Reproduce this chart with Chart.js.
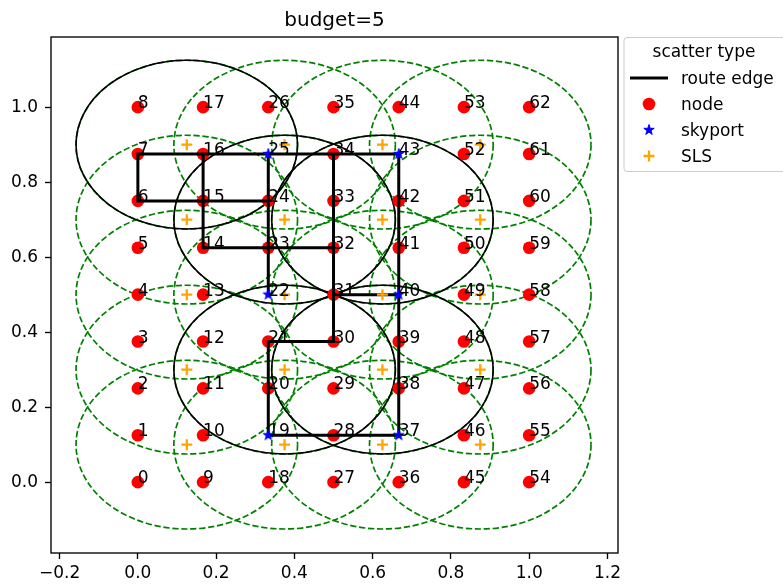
<!DOCTYPE html>
<html>
<head>
<meta charset="utf-8">
<script src="https://cdn.jsdelivr.net/npm/chart.js@4/dist/chart.umd.min.js"></script>
<style>
  html, body { margin: 0; padding: 0; background: #fff; }
  #wrap { width: 783px; height: 586px; }
</style>
</head>
<body>
<div id="wrap"><canvas id="budget-chart" width="783" height="586"></canvas></div>
<script>
// candidate node grid, node id = col * 9 + row
var gridX = [0, 0.1667, 0.3333, 0.5, 0.6667, 0.8333, 1.0];
var gridY = [0, 0.125, 0.25, 0.375, 0.5, 0.625, 0.75, 0.875, 1.0];
var skyportIds = [19, 22, 25, 37, 40, 43];
var slsX = [0.125, 0.375, 0.625, 0.875];
var slsY = [0.1, 0.3, 0.5, 0.7, 0.9];
// SLS sites that are used (solid circles)
var activeSls = [[0.125, 0.9], [0.375, 0.7], [0.625, 0.7], [0.375, 0.3], [0.625, 0.3]];
var coverRadius = [0.283, 0.225]; // x, y in data units
var routeEdges = [
  [7, 16], [16, 25], [25, 34], [34, 43],
  [7, 6], [6, 15], [15, 24],
  [16, 15], [15, 14], [14, 23], [23, 32],
  [25, 24], [24, 23], [23, 22],
  [34, 33], [33, 32], [32, 31], [31, 30],
  [43, 42], [42, 41], [41, 40], [40, 39], [39, 38], [38, 37],
  [31, 40], [30, 21], [21, 20], [20, 19],
  [19, 28], [28, 37]
];
var xTicks = [-0.2, 0, 0.2, 0.4, 0.6, 0.8, 1.0, 1.2];
var yTicks = [0, 0.2, 0.4, 0.6, 0.8, 1.0];
var legendLabels = ['route edge', 'node', 'skyport', 'SLS'];

var FONT = '"DejaVu Sans", "Liberation Sans", sans-serif';

var nodes = [];
gridX.forEach(function (x) {
  gridY.forEach(function (y) { nodes.push({x: x, y: y}); });
});
var slsPoints = [];
slsX.forEach(function (x) {
  slsY.forEach(function (y) { slsPoints.push({x: x, y: y}); });
});
var skyports = skyportIds.map(function (id) { return nodes[id]; });
// plain nodes: the skyports only get a star
var plainNodes = nodes.filter(function (n, i) { return skyportIds.indexOf(i) < 0; });
var edgeData = [];
routeEdges.forEach(function (e) {
  edgeData.push(nodes[e[0]], nodes[e[1]], {x: null, y: null});
});

function starMarker(size, color) {
  var c = document.createElement('canvas');
  c.width = c.height = size;
  var g = c.getContext('2d');
  var R = size / 2 - 1.5, r = R * 0.382;
  g.beginPath();
  for (var i = 0; i < 10; i++) {
    var a = -Math.PI / 2 + i * Math.PI / 5;
    var rad = i % 2 ? r : R;
    g.lineTo(size / 2 + rad * Math.cos(a), size / 2 + rad * Math.sin(a));
  }
  g.closePath();
  g.fillStyle = color;
  g.fill();
  g.strokeStyle = color;
  g.lineWidth = 1;
  g.stroke();
  return c;
}
var star = starMarker(14, '#0000ff');

var ellipses = {
  id: 'ellipses',
  beforeDatasetsDraw: function (chart) {
    var ctx = chart.ctx, sx = chart.scales.x, sy = chart.scales.y, a = chart.chartArea;
    function ell(cx, cy) {
      var px = sx.getPixelForValue(cx), py = sy.getPixelForValue(cy);
      var rx = Math.abs(sx.getPixelForValue(cx + coverRadius[0]) - px);
      var ry = Math.abs(sy.getPixelForValue(cy + coverRadius[1]) - py);
      ctx.beginPath();
      ctx.ellipse(px, py, rx, ry, 0, 0, Math.PI * 2);
      ctx.stroke();
    }
    ctx.save();
    ctx.beginPath();
    ctx.rect(a.left, a.top, a.right - a.left, a.bottom - a.top);
    ctx.clip();
    ctx.strokeStyle = '#008000';
    ctx.lineWidth = 1.7;
    ctx.setLineDash([6.3, 2.7]);
    slsPoints.forEach(function (p) { ell(p.x, p.y); });
    ctx.setLineDash([]);
    ctx.strokeStyle = '#000';
    ctx.lineWidth = 1.6;
    activeSls.forEach(function (p) { ell(p[0], p[1]); });
    ctx.restore();
  }
};

var nodeLabels = {
  id: 'nodeLabels',
  afterDatasetsDraw: function (chart) {
    var ctx = chart.ctx, sx = chart.scales.x, sy = chart.scales.y;
    ctx.save();
    ctx.font = '17px ' + FONT;
    ctx.fillStyle = '#000';
    ctx.textAlign = 'left';
    ctx.textBaseline = 'alphabetic';
    nodes.forEach(function (n, i) {
      ctx.fillText(String(i), sx.getPixelForValue(n.x), sy.getPixelForValue(n.y) + 1);
    });
    ctx.restore();
  }
};

var frameAndLegend = {
  id: 'frameAndLegend',
  afterDraw: function (chart) {
    var ctx = chart.ctx, a = chart.chartArea;
    ctx.save();
    ctx.strokeStyle = '#000';
    ctx.lineWidth = 1.35;
    ctx.strokeRect(a.left, a.top, a.right - a.left, a.bottom - a.top);

    var left = a.right + 6, top = a.top + 0.5, w = 180, h = 134;
    ctx.beginPath();
    ctx.roundRect(left, top, w, h, 3);
    ctx.fillStyle = 'rgba(255,255,255,0.8)';
    ctx.fill();
    ctx.strokeStyle = '#cccccc';
    ctx.lineWidth = 1;
    ctx.stroke();

    ctx.font = '17px ' + FONT;
    ctx.fillStyle = '#000';
    ctx.textAlign = 'center';
    ctx.textBaseline = 'alphabetic';
    ctx.fillText('scatter type', left + 80, top + 19.5);
    ctx.textAlign = 'left';
    var hx = left + 25;
    legendLabels.forEach(function (lab, i) {
      var cy = top + 40.5 + i * 26;
      ctx.fillStyle = '#000';
      ctx.fillText(lab, left + 57, cy + 5.5);
      if (i === 0) {
        ctx.strokeStyle = '#000';
        ctx.lineWidth = 3;
        ctx.beginPath();
        ctx.moveTo(hx - 19, cy);
        ctx.lineTo(hx + 19, cy);
        ctx.stroke();
      } else if (i === 1) {
        ctx.fillStyle = '#ff0000';
        ctx.beginPath();
        ctx.arc(hx, cy, 6.3, 0, Math.PI * 2);
        ctx.fill();
      } else if (i === 2) {
        ctx.drawImage(star, hx - 7, cy - 7);
      } else {
        ctx.strokeStyle = '#ffa500';
        ctx.lineWidth = 2.3;
        ctx.beginPath();
        ctx.moveTo(hx - 5.5, cy); ctx.lineTo(hx + 5.5, cy);
        ctx.moveTo(hx, cy - 5.5); ctx.lineTo(hx, cy + 5.5);
        ctx.stroke();
      }
    });
    ctx.restore();
  }
};

function tickLabel(v) {
  var s = Math.abs(v).toFixed(1);
  return v < 0 ? '\u2212' + s : s;
}

new Chart('budget-chart', {
  type: 'scatter',
  data: {
    datasets: [{
      label: legendLabels[0],
      data: edgeData,
      showLine: true,
      spanGaps: false,
      borderColor: '#000',
      borderWidth: 3,
      borderCapStyle: 'square',
      pointRadius: 0,
      order: 3,
    }, {
      label: legendLabels[1],
      data: plainNodes,
      pointStyle: 'circle',
      pointRadius: 6.3,
      backgroundColor: '#ff0000',
      borderWidth: 0,
      order: 4,
    }, {
      label: legendLabels[2],
      data: skyports,
      pointStyle: star,
      pointRadius: 7,
      order: 1,
    }, {
      label: legendLabels[3],
      data: slsPoints,
      pointStyle: 'cross',
      pointRadius: 5.5,
      borderColor: '#ffa500',
      borderWidth: 2.3,
      order: 2,
    }],
  },
  options: {
    responsive: false,
    devicePixelRatio: 1,
    animation: false,
    events: [],
    layout: { padding: { top: 0, right: 165, left: 0, bottom: 0 } },
    plugins: {
      legend: { display: false },
      tooltip: { enabled: false },
      title: {
        display: true,
        text: 'budget=5',
        fullSize: false,
        color: '#000',
        font: { family: FONT, size: 20, weight: 'normal' },
        padding: { top: 9, bottom: 4 },
      },
    },
    scales: {
      x: {
        type: 'linear',
        min: -0.222,
        max: 1.227,
        afterFit: function (s) { s.height = 33; },
        afterBuildTicks: function (s) { s.ticks = xTicks.map(function (v) { return {value: v}; }); },
        grid: { drawOnChartArea: false, drawTicks: true, tickLength: 6, tickColor: '#000', tickWidth: 1.35 },
        border: { display: false },
        ticks: {
          color: '#000',
          padding: 4,
          maxRotation: 0,
          font: { family: FONT, size: 17 },
          callback: function (v) { return tickLabel(v); },
        },
      },
      y: {
        type: 'linear',
        min: -0.189,
        max: 1.187,
        afterFit: function (s) { s.width = 51; },
        afterBuildTicks: function (s) { s.ticks = yTicks.map(function (v) { return {value: v}; }); },
        grid: { drawOnChartArea: false, drawTicks: true, tickLength: 6, tickColor: '#000', tickWidth: 1.35 },
        border: { display: false },
        ticks: {
          color: '#000',
          padding: 7,
          font: { family: FONT, size: 17 },
          callback: function (v) { return tickLabel(v); },
        },
      },
    },
  },
  plugins: [ellipses, nodeLabels, frameAndLegend],
});
</script>
</body>
</html>
